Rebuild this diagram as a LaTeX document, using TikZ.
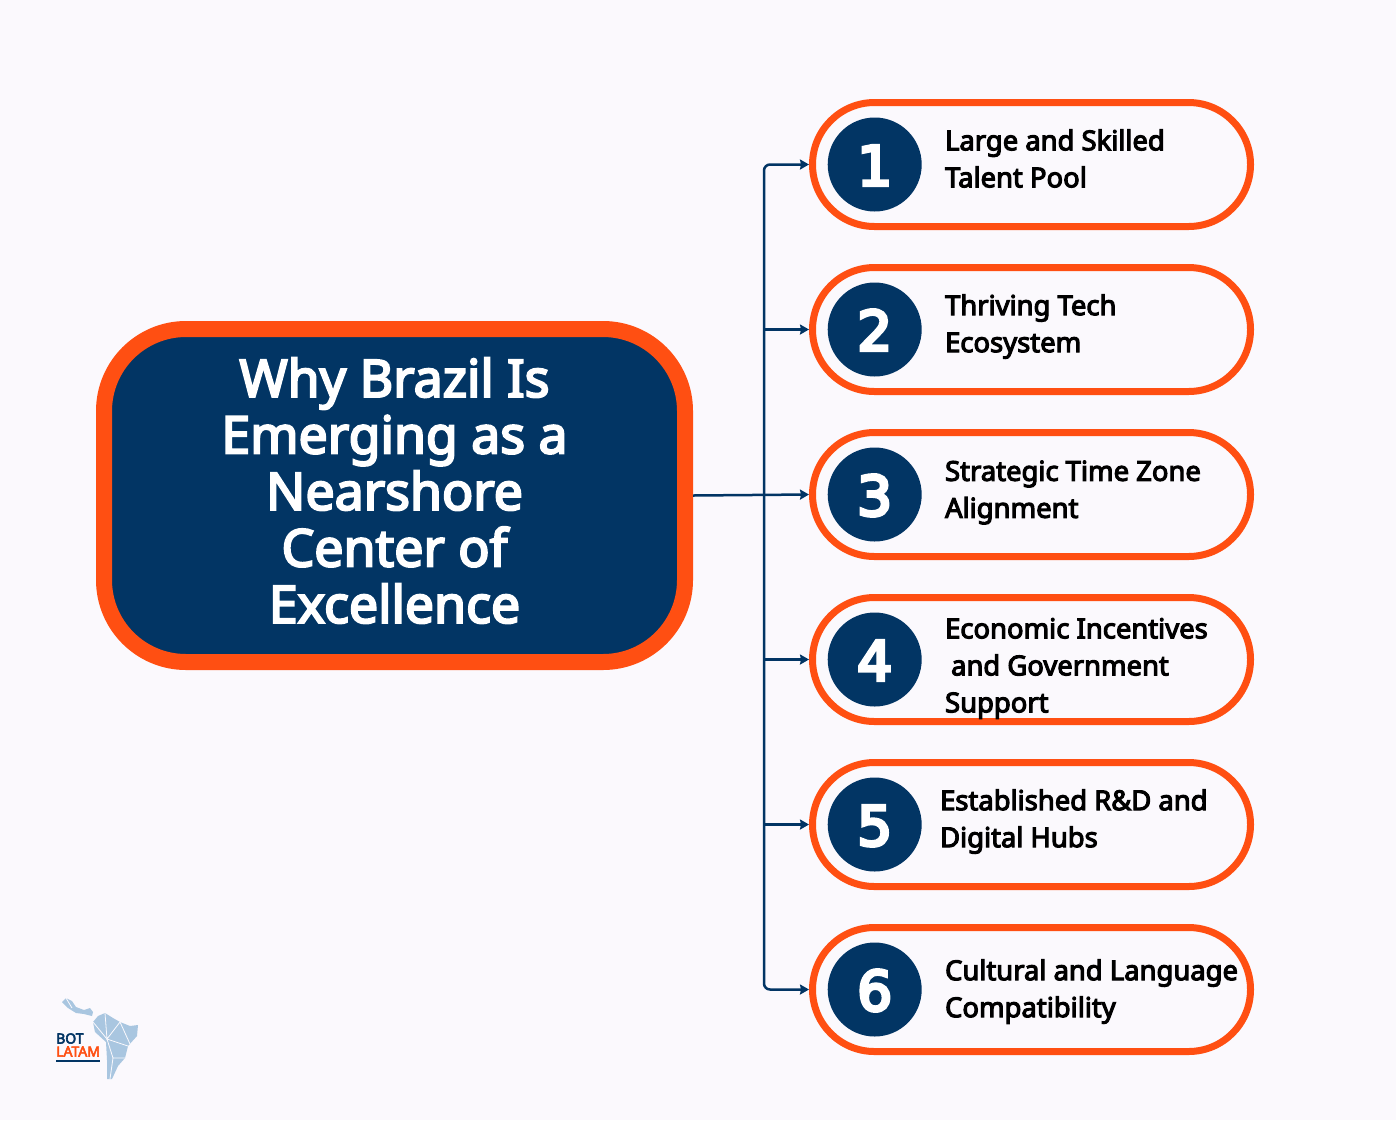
\documentclass[tikz,border=0pt]{standalone}
\usepackage{fontspec}
\setmainfont{Noto Sans}[BoldFont={Noto Sans},BoldFeatures={FakeBold=4}]
\newfontfamily\digitfont{DejaVu Sans}[FakeBold=6]
\usepackage{tikz}
\usetikzlibrary{positioning,arrows.meta}

\definecolor{navy}{HTML}{023564}
\definecolor{flame}{HTML}{FF4F12}
\definecolor{paper}{HTML}{FBF9FD}
\definecolor{mapblue}{HTML}{A9C6E0}

\tikzset{
  hubbox/.style={draw=flame,line width=16pt,fill=navy,rounded corners=82pt,minimum width=581pt,minimum height=333pt},
  hubtext/.style={inner sep=0pt,text=white,align=center,font=\fontsize{51.8}{56.5}\selectfont\bfseries},
  pill/.style={draw=flame,line width=7pt,fill=paper,rounded corners=62pt,minimum width=438pt,minimum height=124pt},
  numdot/.style={circle,fill=navy,text=white,minimum size=94pt,inner sep=0pt,text height=42pt,text depth=0pt,font=\fontsize{55}{55}\selectfont\digitfont},
  itemtext/.style={inner sep=0pt,anchor=west,align=left,text=black,font=\fontsize{27.4}{37}\selectfont\bfseries},
  link/.style={-{Stealth[length=9pt,width=10pt,inset=1pt]},draw=navy,line width=2.5pt},
  mapline/.style={draw=paper,line width=0.8pt}
}

\begin{document}
\begin{tikzpicture}[x=1pt,y=-1pt]

\fill[paper] (0,0) rectangle (1396,1120);
\useasboundingbox (0,0) rectangle (1396,1120);

\node[hubbox] (hub) at (394.5,495.5) {};
\node[hubtext,yshift=5pt] (title) at (hub) {Why Brazil Is\\Emerging as a\\Nearshore\\Center of\\Excellence};

\node[pill] (p1) at (1031.5,164.5) {};
\node[pill,below = 34pt of p1] (p2) {};
\node[pill,below = 34pt of p2] (p3) {};
\node[pill,below = 34pt of p3] (p4) {};
\node[pill,below = 34pt of p4] (p5) {};
\node[pill,below = 34pt of p5] (p6) {};

\node[numdot,right = 18.5pt of p1.west] (n1) {1};
\node[numdot,right = 18.5pt of p2.west] (n2) {2};
\node[numdot,right = 18.5pt of p3.west] (n3) {3};
\node[numdot,right = 18.5pt of p4.west] (n4) {4};
\node[numdot,right = 18.5pt of p5.west] (n5) {5};
\node[numdot,right = 18.5pt of p6.west] (n6) {6};

\node[itemtext,right = 23pt of n1,yshift=6pt] (t1) {Large and Skilled\\Talent Pool};
\node[itemtext,right = 23pt of n2,yshift=3pt] (t2) {Thriving Tech\\Ecosystem};
\node[itemtext,right = 23pt of n3,yshift=2pt] (t3) {Strategic Time Zone\\Alignment};
\node[itemtext,right = 23pt of n4,yshift=-9pt] (t4) {Economic Incentives\\\hspace*{6pt}and Government\\Support};
\node[itemtext,right = 18pt of n5,yshift=3pt] (t5) {Established R\&D and\\Digital Hubs};
\node[itemtext,right = 23pt of n6,yshift=-2pt] (t6) {Cultural and Language\\Compatibility};

%trunk
\coordinate (trunk) at (764,495);
\path (hub.east) edge [link] (p3.west);
\draw[link,rounded corners=6pt] (trunk) |- (p1.west);
\draw[link,rounded corners=6pt] (trunk) |- (p6.west);
\path (trunk |- p2) edge [link] (p2.west);
\path (trunk |- p4) edge [link] (p4.west);
\path (trunk |- p5) edge [link] (p5.west);

%logo
\fill[mapblue] (62,1002) -- (66,998) -- (72,1001) -- (76,1007) -- (84,1010) -- (90,1008) -- (93,1012) -- (92,1016) -- (84,1014) -- (76,1013) -- (68,1008) -- cycle;
\fill[mapblue] (93,1022) -- (98,1016) -- (105,1013) -- (113,1018) -- (120,1022) -- (130,1026) -- (138,1025) -- (137,1036) -- (128,1046) -- (125,1058) -- (118,1066) -- (112,1079) -- (107,1079) -- (107,1060) -- (106,1042) -- (95,1032) -- cycle;
\draw[mapline] (105,1013) -- (107,1039) -- (120,1022) -- (130,1044);
\draw[mapline] (93,1022) -- (107,1039) -- (128,1046);
\draw[mapline] (107,1039) -- (113,1058) -- (125,1058);
\draw[mapline] (113,1058) -- (110,1079);
\draw[mapline] (66,998) -- (72,1008);
\node[inner sep=0pt,anchor=west,text=navy,font=\fontsize{14}{14}\selectfont\bfseries] (bot) at (56,1038.5) {BOT};
\node[inner sep=0pt,anchor=west,text=flame,font=\fontsize{14}{14}\selectfont\bfseries] (latam) at (56,1051.5) {LATAM};
\draw[navy,line width=2pt] (latam.west |- 0,1061) -- (latam.east |- 0,1061);

\end{tikzpicture}
\end{document}
